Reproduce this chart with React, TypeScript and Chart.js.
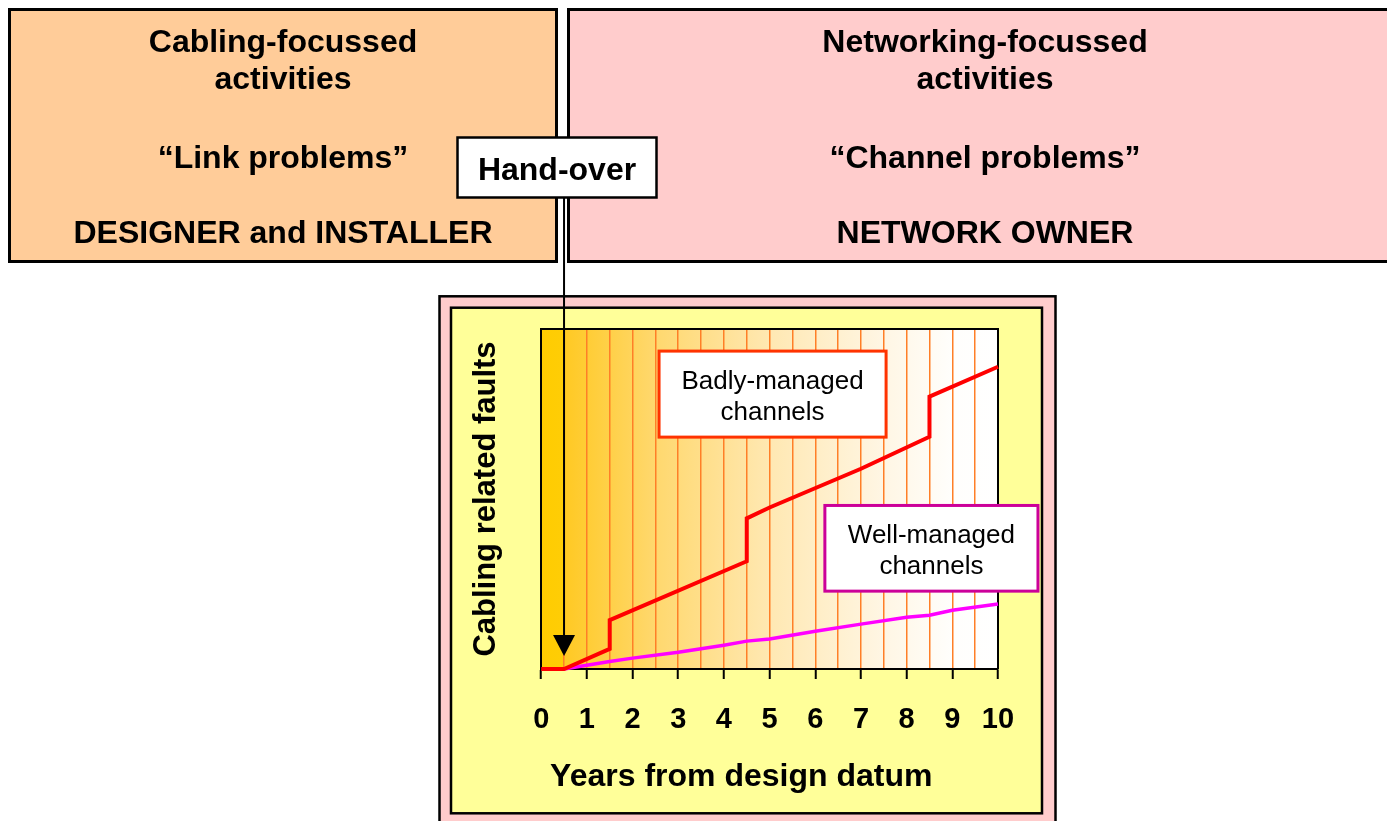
import { useEffect, useRef } from 'react';
import { Chart, registerables } from 'chart.js';

Chart.register(...registerables);

const FONT = '"Liberation Sans", Arial, Helvetica, sans-serif';

// ---- data ----
const badYears = [0, 0.5, 1.5, 1.5, 4.5, 4.5, 5, 7, 8.5, 8.5, 10];
const badFaults = [0, 0, 5.9, 14.4, 31.7, 44.3, 47.5, 58.9, 68.3, 80.1, 88.9];
const wellYears = [0.5, 1, 1.5, 2, 3, 4, 4.5, 5, 6, 7, 8, 8.5, 9, 10];
const wellFaults = [0, 1.1, 2.2, 3.2, 4.9, 7.0, 8.2, 8.8, 11.1, 13.2, 15.2, 15.8, 17.3, 19.1];
const yearTicks = [0, 1, 2, 3, 4, 5, 6, 7, 8, 9, 10];

const leftHeadings = ['Cabling-focussed', 'activities', '\u201CLink problems\u201D', 'DESIGNER and INSTALLER'];
const rightHeadings = ['Networking-focussed', 'activities', '\u201CChannel problems\u201D', 'NETWORK OWNER'];
const handOverText = 'Hand-over';
const handOverYear = 0.5;
const badLabel = ['Badly-managed', 'channels'];
const wellLabel = ['Well-managed', 'channels'];
const xAxisTitle = 'Years from design datum';
const yAxisTitle = 'Cabling related faults';

// ---- layout / style (not data) ----
const headingBaselines = [52, 89, 168, 243];
const badBox = { x0: 2.58, x1: 7.55, y0: 68.2, y1: 93.5, border: '#FF3300' };
const wellBox = { x0: 6.21, x1: 10.875, y0: 22.9, y1: 48.1, border: '#CC0099' };

function rectBox(ctx: CanvasRenderingContext2D, x: number, y: number, w: number, h: number, fill: string, lw: number, stroke = '#000') {
  ctx.fillStyle = fill;
  ctx.fillRect(x, y, w, h);
  ctx.lineWidth = lw;
  ctx.strokeStyle = stroke;
  ctx.strokeRect(x, y, w, h);
}

const diagramPlugin = {
  id: 'diagram',
  beforeDraw(chart: any) {
    const { ctx, chartArea, scales } = chart;
    const xs = scales.x;
    ctx.save();
    // top boxes
    rectBox(ctx, 9.5, 9.5, 547, 252, '#FFCC99', 3);
    rectBox(ctx, 568.5, 9.5, 900, 252, '#FFCCCC', 3);
    // chart frames
    rectBox(ctx, 439.5, 296.3, 616, 560, '#FFCCCC', 2.5);
    rectBox(ctx, 451, 307.7, 591, 505.6, '#FFFF99', 2.5);
    // background gradient of plot area
    const g = ctx.createLinearGradient(xs.getPixelForValue(0), 0, xs.getPixelForValue(10), 0);
    g.addColorStop(0, 'rgb(255,204,0)');
    g.addColorStop(0.049, 'rgb(255,205,6)');
    g.addColorStop(0.051, 'rgb(255,201,35)');
    g.addColorStop(0.25, 'rgb(255,216,110)');
    g.addColorStop(0.5, 'rgb(255,232,178)');
    g.addColorStop(0.75, 'rgb(255,246,228)');
    g.addColorStop(0.9, 'rgb(255,254,252)');
    g.addColorStop(1, 'rgb(255,255,255)');
    ctx.fillStyle = g;
    ctx.fillRect(chartArea.left, chartArea.top, chartArea.right - chartArea.left, chartArea.bottom - chartArea.top);
    ctx.restore();
  },
  beforeDatasetsDraw(chart: any) {
    const { ctx, chartArea } = chart;
    ctx.save();
    ctx.strokeStyle = '#000';
    ctx.lineWidth = 2;
    ctx.beginPath();
    ctx.moveTo(chartArea.left, chartArea.top);
    ctx.lineTo(chartArea.right, chartArea.top);
    ctx.lineTo(chartArea.right, chartArea.bottom);
    ctx.stroke();
    ctx.restore();
  },
  afterDraw(chart: any) {
    const { ctx, scales } = chart;
    const xs = scales.x;
    const ys = scales.y;
    ctx.save();
    // label boxes
    const drawLabel = (b: any, lines: string[]) => {
      const l = xs.getPixelForValue(b.x0);
      const r = xs.getPixelForValue(b.x1);
      const t = ys.getPixelForValue(b.y1);
      const bt = ys.getPixelForValue(b.y0);
      rectBox(ctx, l, t, r - l, bt - t, '#FFFFFF', 3, b.border);
      ctx.fillStyle = '#000';
      ctx.font = `26px ${FONT}`;
      ctx.textAlign = 'center';
      ctx.textBaseline = 'alphabetic';
      lines.forEach((s, i) => ctx.fillText(s, (l + r) / 2, t + 37.5 + i * 31));
    };
    drawLabel(badBox, badLabel);
    drawLabel(wellBox, wellLabel);

    // x-axis title (sits left of the plot centre in the original)
    ctx.fillStyle = '#000';
    ctx.font = `bold 32px ${FONT}`;
    ctx.textAlign = 'center';
    ctx.textBaseline = 'alphabetic';
    ctx.fillText(xAxisTitle, xs.getPixelForValue(4.38), 786);

    // hand-over arrow
    const ax = xs.getPixelForValue(handOverYear);
    const tipY = ys.getPixelForValue(3.8);
    const headTop = tipY - 21;
    ctx.strokeStyle = '#000';
    ctx.lineWidth = 2;
    ctx.beginPath();
    ctx.moveTo(ax, 198);
    ctx.lineTo(ax, headTop + 1);
    ctx.stroke();
    ctx.fillStyle = '#000';
    ctx.beginPath();
    ctx.moveTo(ax - 11, headTop);
    ctx.lineTo(ax + 11, headTop);
    ctx.lineTo(ax, tipY);
    ctx.closePath();
    ctx.fill();

    // hand-over box
    rectBox(ctx, 457.5, 137.5, 199, 60, '#FFFFFF', 2.5);
    ctx.fillStyle = '#000';
    ctx.font = `bold 32px ${FONT}`;
    ctx.textAlign = 'center';
    ctx.textBaseline = 'alphabetic';
    ctx.fillText(handOverText, 557, 180);

    // headings
    leftHeadings.forEach((s, i) => ctx.fillText(s, 283, headingBaselines[i]));
    rightHeadings.forEach((s, i) => ctx.fillText(s, 985, headingBaselines[i]));
    ctx.restore();
  },
};

export default function App() {
  const ref = useRef<HTMLCanvasElement | null>(null);
  useEffect(() => {
    if (!ref.current) return;
    const chart = new Chart(ref.current, {
      type: 'line',
      data: {
        datasets: [
          {
            label: 'Badly-managed channels',
            data: badYears.map((x, i) => ({ x, y: badFaults[i] })),
            borderColor: '#FF0000',
            borderWidth: 4,
            pointRadius: 0,
            tension: 0,
            fill: false,
            clip: false as any,
          },
          {
            label: 'Well-managed channels',
            data: wellYears.map((x, i) => ({ x, y: wellFaults[i] })),
            borderColor: '#FF00FF',
            borderWidth: 3.5,
            pointRadius: 0,
            tension: 0,
            fill: false,
            clip: false as any,
          },
        ],
      },
      options: {
        responsive: false,
        animation: false,
        events: [],
        layout: { padding: { left: 468, right: 389, top: 329, bottom: 60 } },
        plugins: {
          legend: { display: false },
          tooltip: { enabled: false },
          title: { display: false },
        },
        scales: {
          x: {
            type: 'linear',
            min: 0,
            max: 10,
            ticks: {
              stepSize: 0.5,
              autoSkip: false,
              maxRotation: 0,
              padding: 23.6,
              color: '#000',
              font: { family: FONT, size: 29, weight: 'bold', lineHeight: 1.2 },
              callback: (v: any) => (yearTicks.includes(Number(v)) ? String(v) : ''),
            },
            grid: {
              drawOnChartArea: true,
              drawTicks: true,
              tickLength: 10,
              lineWidth: 1.5,
              tickWidth: 2,
              color: (c: any) =>
                c.tick && (c.tick.value === 0 || c.tick.value === 10) ? 'rgba(0,0,0,0)' : '#FF7F27',
              tickColor: (c: any) =>
                c.tick && yearTicks.includes(c.tick.value) ? '#000' : 'rgba(0,0,0,0)',
            },
            border: { display: true, color: '#000', width: 2 },
            title: { display: false },
          },
          y: {
            min: 0,
            max: 100,
            ticks: { display: false },
            grid: { display: false },
            border: { display: true, color: '#000', width: 2 },
            title: {
              display: true,
              text: yAxisTitle,
              color: '#000',
              font: { family: FONT, size: 31, weight: 'bold', lineHeight: 1.2 },
              padding: { top: 0, bottom: 28 },
            },
          },
        },
      },
      plugins: [diagramPlugin],
    } as any);
    return () => chart.destroy();
  }, []);

  return (
    <div style={{ position: 'absolute', left: 0, top: 0, width: 1387, height: 821, background: '#fff', overflow: 'hidden' }}>
      <canvas ref={ref} width={1387} height={821} style={{ display: 'block', width: 1387, height: 821 }} />
    </div>
  );
}
